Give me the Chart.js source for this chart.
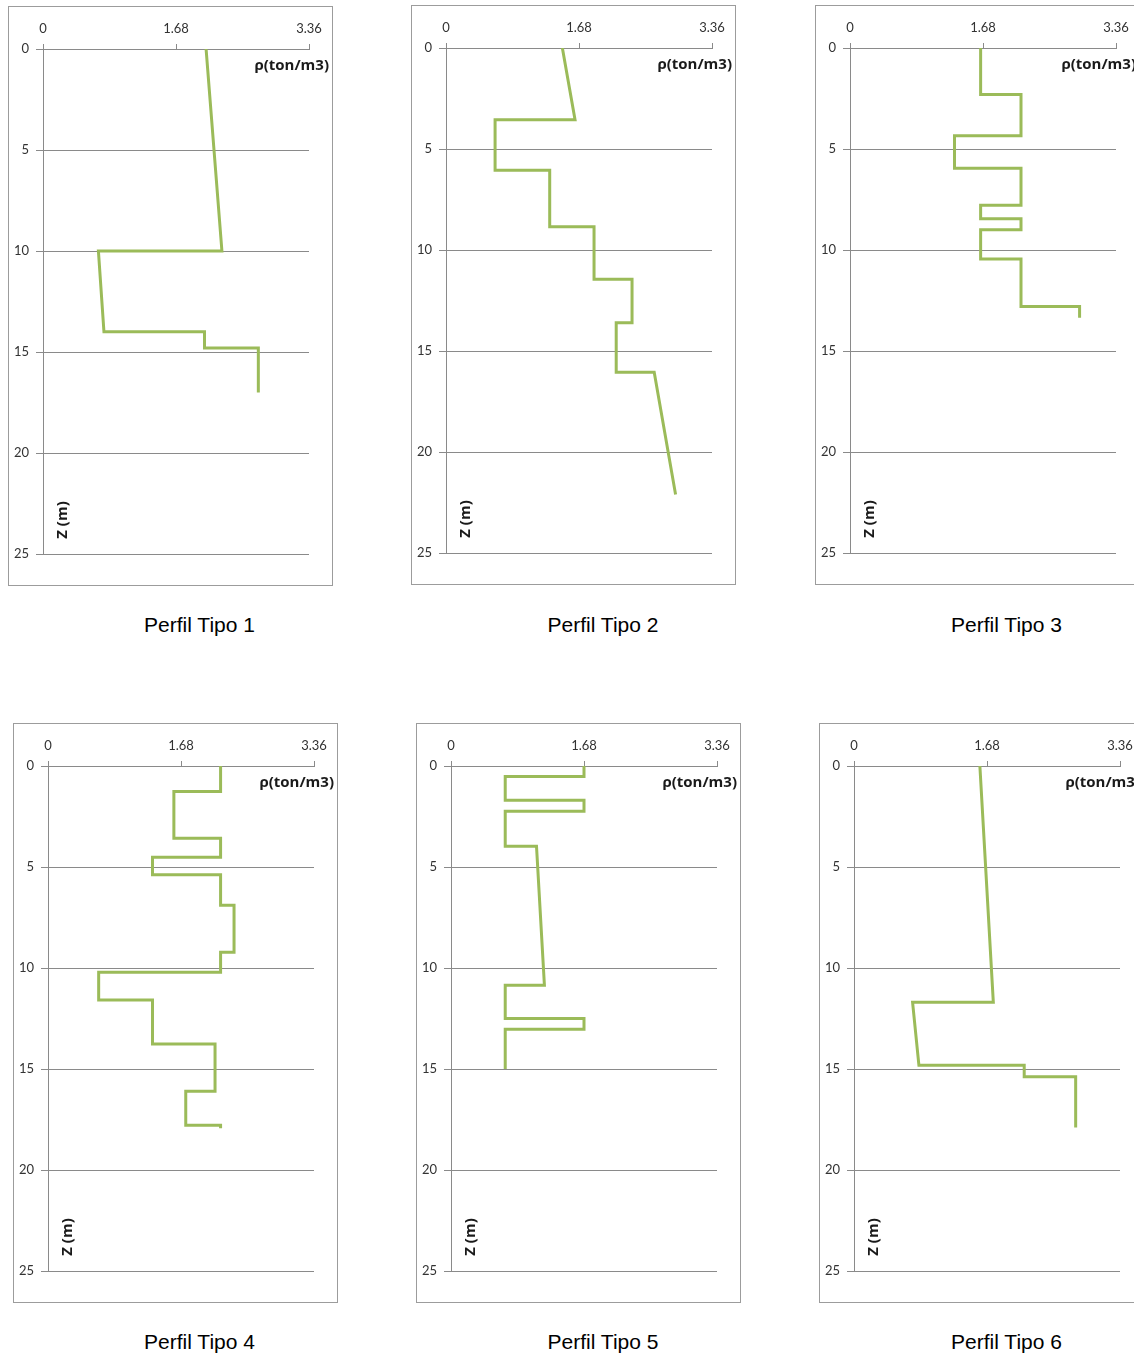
<!DOCTYPE html>
<html>
<head>
<meta charset="utf-8">
<title>Perfiles de densidad</title>
<script src="https://cdn.jsdelivr.net/npm/chart.js@4"></script>
<style>
  html, body { margin: 0; padding: 0; background: #ffffff; overflow: hidden; }
  body { width: 1134px; height: 1355px; position: relative; }
  .frame { position: absolute; width: 325px; height: 580px; box-sizing: border-box; border: 1px solid #9c9c9c; }
  .frame canvas { position: absolute; left: -1px; top: -1px; }
  .caption { position: absolute; width: 240px; margin-left: -120px; text-align: center;
             font-family: "Liberation Sans", Arial, sans-serif; font-size: 21px; color: #000; line-height: 24px; }
</style>
</head>
<body>
<script>
// Density profiles: depth z (m) and density rho (ton/m3), one pair of arrays per profile
const profileNames = ['Perfil Tipo 1', 'Perfil Tipo 2', 'Perfil Tipo 3', 'Perfil Tipo 4', 'Perfil Tipo 5', 'Perfil Tipo 6'];

const depth1 = [0, 10, 10, 14, 14, 14.8, 14.8, 17];
const rho1   = [2.06, 2.26, 0.70, 0.77, 2.04, 2.04, 2.72, 2.72];

const depth2 = [0, 3.55, 3.55, 6.05, 6.05, 8.85, 8.85, 11.45, 11.45, 13.6, 13.6, 16.05, 16.05, 22.1];
const rho2   = [1.47, 1.63, 0.62, 0.62, 1.31, 1.31, 1.87, 1.87, 2.35, 2.35, 2.15, 2.15, 2.63, 2.90];

const depth3 = [0, 2.3, 2.3, 4.35, 4.35, 5.95, 5.95, 7.78, 7.78, 8.45, 8.45, 9.0, 9.0, 10.45, 10.45, 12.8, 12.8, 13.35];
const rho3   = [1.65, 1.65, 2.16, 2.16, 1.32, 1.32, 2.16, 2.16, 1.65, 1.65, 2.16, 2.16, 1.65, 1.65, 2.16, 2.16, 2.90, 2.90];

const depth4 = [0, 1.26, 1.26, 3.58, 3.58, 4.52, 4.52, 5.38, 5.38, 6.89, 6.89, 9.22, 9.22, 10.21, 10.21, 11.58, 11.58, 13.76, 13.76, 16.1, 16.1, 17.79, 17.79, 17.93];
const rho4   = [2.18, 2.18, 1.59, 1.59, 2.18, 2.18, 1.32, 1.32, 2.18, 2.18, 2.35, 2.35, 2.18, 2.18, 0.64, 0.64, 1.32, 1.32, 2.11, 2.11, 1.74, 1.74, 2.18, 2.18];

const depth5 = [0, 0.52, 0.52, 1.7, 1.7, 2.24, 2.24, 3.97, 3.97, 10.85, 10.85, 12.5, 12.5, 13.03, 13.03, 15.0];
const rho5   = [1.68, 1.68, 0.685, 0.685, 1.68, 1.68, 0.685, 0.685, 1.08, 1.18, 0.685, 0.685, 1.68, 1.68, 0.685, 0.685];

const depth6 = [0, 11.7, 11.7, 14.82, 14.82, 15.38, 15.38, 17.9];
const rho6   = [1.59, 1.76, 0.74, 0.82, 2.15, 2.15, 2.80, 2.80];

// Axis ticks
const rhoTicks = [0, 1.68, 3.36];
const depthTicks = [0, 5, 10, 15, 20, 25];

const depths = [depth1, depth2, depth3, depth4, depth5, depth6];
const rhos = [rho1, rho2, rho3, rho4, rho5, rho6];

// Frame positions on the page
const frames = [[8, 6], [411, 5], [815, 5], [13, 723], [416, 723], [819, 723]];
const captions = [[199.5, 613], [603, 613], [1006.5, 613], [199.5, 1330], [603, 1330], [1006.5, 1330]];

const GRID = '#8a8a8a';
const TEXT = '#333333';
const LINE = '#9bbb59';
const TICK_FONT = 'Lato, "Open Sans", sans-serif';
const TITLE_FONT = '"Open Sans", "DejaVu Sans", sans-serif';

// Axis titles drawn relative to the plot area
const axisTitles = {
  id: 'axisTitles',
  afterDraw(chart) {
    const { ctx, chartArea } = chart;
    ctx.save();
    ctx.fillStyle = '#1a1a1a';
    ctx.font = 'bold 15px ' + TITLE_FONT;
    ctx.textAlign = 'right';
    ctx.textBaseline = 'middle';
    ctx.fillText('\u03c1(ton/m3)', chartArea.right + 20, chartArea.top + 17);
    ctx.translate(chartArea.left + 19.5, chartArea.top + 471);
    ctx.rotate(-Math.PI / 2);
    ctx.textAlign = 'center';
    ctx.fillText('Z (m)', 0, 0);
    ctx.restore();
  }
};

function fmtRho(v) {
  return v === 0 ? '0' : v.toFixed(2);
}

function build() {
  for (let i = 0; i < 6; i++) {
    const frame = document.createElement('div');
    frame.className = 'frame';
    frame.style.left = frames[i][0] + 'px';
    frame.style.top = frames[i][1] + 'px';
    const canvas = document.createElement('canvas');
    canvas.width = 325;
    canvas.height = 580;
    canvas.style.width = '325px';
    canvas.style.height = '580px';
    frame.appendChild(canvas);
    document.body.appendChild(frame);

    const cap = document.createElement('div');
    cap.className = 'caption';
    cap.style.left = captions[i][0] + 'px';
    cap.style.top = captions[i][1] + 'px';
    cap.textContent = profileNames[i];
    document.body.appendChild(cap);

    const points = depths[i].map((z, k) => ({ x: rhos[i][k], y: z }));

    new Chart(canvas, {
      type: 'scatter',
      data: {
        datasets: [{
          data: points,
          showLine: true,
          borderColor: LINE,
          backgroundColor: LINE,
          borderWidth: 3,
          pointRadius: 0,
          tension: 0,
          fill: false
        }]
      },
      options: {
        responsive: false,
        animation: false,
        devicePixelRatio: 1,
        layout: { padding: { left: 0, top: 0, right: 24, bottom: 32 } },
        plugins: { legend: { display: false }, tooltip: { enabled: false }, title: { display: false } },
        scales: {
          x: {
            type: 'linear',
            position: 'top',
            min: rhoTicks[0],
            max: rhoTicks[rhoTicks.length - 1],
            afterBuildTicks(scale) { scale.ticks = rhoTicks.map(v => ({ value: v })); },
            afterFit(scale) { scale.height = 43; },
            grid: { drawOnChartArea: false, drawTicks: true, tickLength: 5, color: GRID, lineWidth: 1 },
            border: { display: true, color: GRID, width: 1 },
            ticks: { color: TEXT, font: { family: TICK_FONT, size: 13 }, padding: 7, maxRotation: 0,
                     callback: v => fmtRho(v) }
          },
          y: {
            type: 'linear',
            position: 'left',
            reverse: true,
            min: depthTicks[0],
            max: depthTicks[depthTicks.length - 1],
            afterBuildTicks(scale) { scale.ticks = depthTicks.map(v => ({ value: v })); },
            afterFit(scale) { scale.width = 35; },
            grid: { drawOnChartArea: true, drawTicks: true, tickLength: 7, color: GRID, lineWidth: 1 },
            border: { display: true, color: GRID, width: 1 },
            ticks: { color: TEXT, font: { family: TICK_FONT, size: 13 }, padding: 7 }
          }
        }
      },
      plugins: [axisTitles]
    });
  }
}

const fontLoads = document.fonts && document.fonts.load
  ? Promise.all([
      document.fonts.load('13px Lato'),
      document.fonts.load('bold 15px "Open Sans"')
    ]).catch(() => null)
  : Promise.resolve();
fontLoads.then(build, build);
</script>
</body>
</html>
